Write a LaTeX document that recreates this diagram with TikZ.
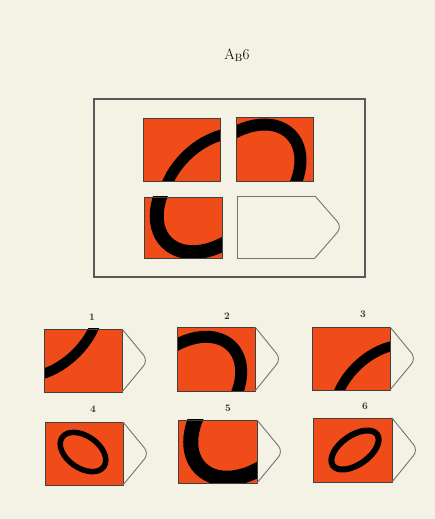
\documentclass[tikz,border=0pt]{standalone}
\usepackage{fontspec}
\usepackage{tikz}
\definecolor{bg}{HTML}{F3F2E4}
\definecolor{tileor}{HTML}{F04C1A}
\tikzset{
  tileedge/.style={draw=black!75, line width=0.8pt},
  tagline/.style={draw=black!55, line width=0.9pt},
  frameline/.style={draw=black!65, line width=1.1pt},
  numlabel/.style={font=\fontsize{10}{11}\selectfont\bfseries, text=black!80},
}
% tile: #1 x1, #2 y1, #3 x2, #4 y2, #5 cx, #6 cy, #7 a, #8 b ; width \bandw, rotation \bandrot
\newcommand{\rtile}[8]{%
  \begin{scope}
    \fill[tileor] (#1,#2) rectangle (#3,#4);
    \clip (#1,#2) rectangle (#3,#4);
    \draw[black, line width=\bandw pt] (#5,#6) circle [x radius=#7, y radius=#8, rotate=\bandrot];
  \end{scope}
  \draw[tileedge] (#1,#2) rectangle (#3,#4);
}
\newcommand{\rtag}[3]{% xr, ytop, ybottom
  \draw[tagline, rounded corners=7pt] (#1,#2) -- ({#1+26},{(#2+#3)/2}) -- (#1,#3);
}
\begin{document}
\begin{tikzpicture}[x=1pt,y=1pt]
  \fill[bg] (0,0) rectangle (435,519);
  \useasboundingbox (0,0) rectangle (435,519);

  % title
  \node (title) at (237,464) {\fontsize{15}{17}\selectfont A$_{\mathrm{B}}$6};

  % outer frame
  \draw[frameline] (94,242) rectangle (365,420);

  % matrix tiles
  \def\bandw{11}\def\bandrot{45}
  \rtile{143}{338}{220}{401}{216}{332}{63}{43}
  \def\bandw{12}
  \rtile{236}{338}{313}{402}{244}{338}{66}{45}
  \def\bandw{14}
  \rtile{144}{261}{222}{322}{214}{324}{67}{45.5}

  % blank answer place
  \draw[tagline] (315,323) -- (237,323) -- (237,261) -- (315,261);
  \draw[tagline, rounded corners=7pt] (315,323) -- (342,292) -- (315,261);

  % options
  \def\bandw{10}
  \rtile{44}{127}{122}{190}{45}{197}{64}{44}
  \rtag{122}{190}{127}
  \def\bandw{12}
  \rtile{177}{128}{255}{192}{186}{127}{64.5}{44}
  \rtag{255}{192}{128}
  \def\bandw{10}
  \rtile{312}{129}{390}{192}{385}{123}{60}{41}
  \rtag{390}{192}{129}
  \def\bandw{5.5}\def\bandrot{-35}
  \rtile{45}{34}{123}{97}{83}{67}{25.5}{16}
  \rtag{123}{97}{34}
  \def\bandw{15}\def\bandrot{45}
  \rtile{178}{36}{257}{99}{248}{98}{67}{45.5}
  \rtag{257}{99}{36}
  \def\bandw{6}\def\bandrot{35}
  \rtile{313}{37}{392}{101}{355}{69}{27}{14.5}
  \rtag{392}{101}{37}

  % option numbers
  \node[numlabel] (n1) at (92,202) {1};
  \node[numlabel] (n2) at (227,203) {2};
  \node[numlabel] (n3) at (363,205) {3};
  \node[numlabel] (n4) at (93,110) {4};
  \node[numlabel] (n5) at (228,111) {5};
  \node[numlabel] (n6) at (365,113) {6};
\end{tikzpicture}
\end{document}
